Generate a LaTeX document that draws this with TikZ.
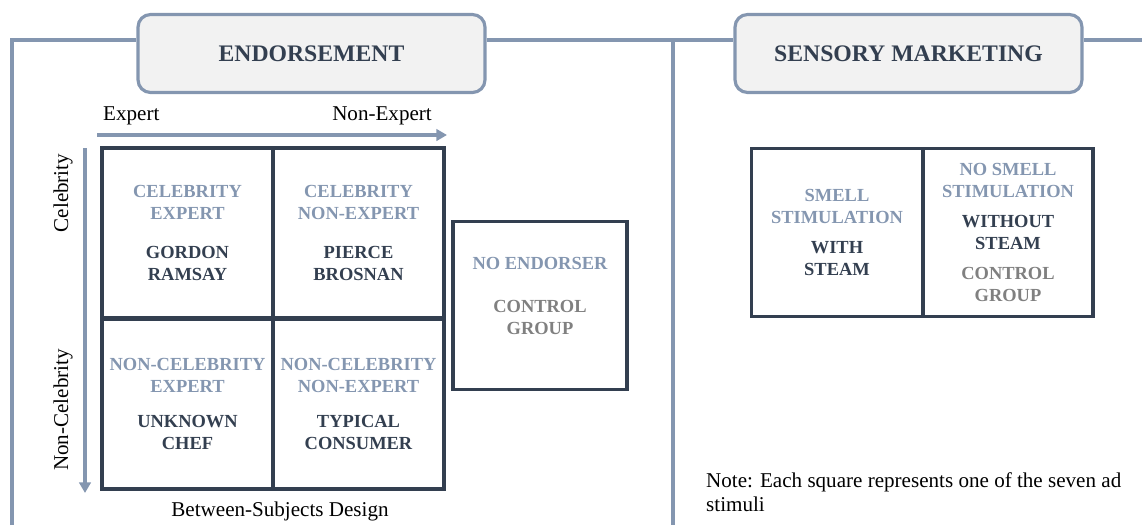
\documentclass[tikz,border=0pt]{standalone}
\usepackage{fontspec}
\setmainfont{Liberation Serif}
\usetikzlibrary{arrows.meta, positioning}

\definecolor{slate}{HTML}{8496B0}
\definecolor{navy}{HTML}{333F50}
\definecolor{ctrlgray}{HTML}{808080}
\definecolor{hdrfill}{HTML}{F2F2F2}

\newcommand{\lt}[1]{{\color{slate}#1}}
\newcommand{\ctl}[1]{{\color{ctrlgray}#1}}

\begin{document}
\begin{tikzpicture}[
  x=0.02cm, y=-0.02cm,
  hdr/.style={rectangle, rounded corners=0.25cm, draw=slate, line width=1.8pt, fill=hdrfill, text=navy, minimum width=6.94cm, minimum height=1.56cm, font=\fontsize{13.5}{16}\selectfont\bfseries},
  cell/.style={rectangle, draw=navy, line width=1.9pt, text=navy, align=center, minimum width=3.42cm, minimum height=3.4cm, font=\fontsize{10.5}{12.5}\selectfont\bfseries},
  frm/.style={slate, line width=2pt},
  axis/.style={slate, line width=1.8pt, -{Triangle[length=6pt,width=6.5pt]}},
  lbl/.style={font=\fontsize{12}{14}\selectfont}
]
\useasboundingbox (0,0) rectangle (1142,525);

% frame
\coordinate (tl) at (12,40);
\coordinate (bl) at (12,525);
\coordinate (tm) at (673,40);
\coordinate (bm) at (673,525);
\coordinate (tr) at (1142,40);

\node[hdr] (endorse) at (311.5,53.5) {ENDORSEMENT};
\node[hdr] (sensory) at (908.5,53.5) {SENSORY MARKETING};

\draw[frm] (bl) -- (tl) -- (tl -| endorse.west);
\draw[frm] (tl -| endorse.east) -- (tl -| sensory.west);
\draw[frm] (tl -| sensory.east) -- (tr);
\draw[frm] (tm) -- (bm);

% endorsement axes
\coordinate (xs) at (97,135);
\coordinate (xe) at (447,135);
\coordinate (ys) at (85,148);
\coordinate (ye) at (85,493);
\draw[axis] (xs) -- (xe);
\draw[axis] (ys) -- (ye);

\node[lbl, anchor=base west] (expert) at (97,120) {Expert};
\node[lbl, anchor=base east] (nonexpert) at (438,120) {Non-Expert};
\node[lbl, rotate=90] (celeb) at (63,193) {Celebrity};
\node[lbl, rotate=90] (nonceleb) at (63,410) {Non-Celebrity};

% 2x2 endorser grid
\node[cell] (c11) at (187.5,233) {\lt{CELEBRITY}\\\lt{EXPERT}\\[9.5pt]GORDON\\RAMSAY};
\node[cell] (c12) at (358.5,233) {\lt{CELEBRITY}\\\lt{NON-EXPERT}\\[9.5pt]PIERCE\\BROSNAN};
\node[cell] (c21) at (187.5,404) {\lt{NON-CELEBRITY}\\\lt{EXPERT}\\[7pt]UNKNOWN\\CHEF};
\node[cell] (c22) at (358.5,404) {\lt{NON-CELEBRITY}\\\lt{NON-EXPERT}\\[7pt]TYPICAL\\CONSUMER};
\node[cell, minimum width=3.48cm, minimum height=3.36cm] (noend) at (540,305.5) {\lt{NO ENDORSER}\\[12pt]\ctl{CONTROL}\\\ctl{GROUP}\\[-1pt]\mbox{}};

\node[lbl, anchor=base] (design) at (280,516) {Between-Subjects Design};

% sensory grid
\node[cell, minimum height=3.36cm] (smell) at (837,232.5) {\lt{SMELL}\\\lt{STIMULATION}\\[5pt]WITH\\STEAM};
\node[cell, minimum width=3.4cm, minimum height=3.36cm] (nosmell) at (1008,232.5) {\lt{NO SMELL}\\\lt{STIMULATION}\\[5pt]WITHOUT\\STEAM\\[4.5pt]\ctl{CONTROL}\\\ctl{GROUP}};

\node[lbl, anchor=north west, align=left] (note) at (700,466) {Note: Each square represents one of the seven ad\\stimuli};

\end{tikzpicture}
\end{document}
